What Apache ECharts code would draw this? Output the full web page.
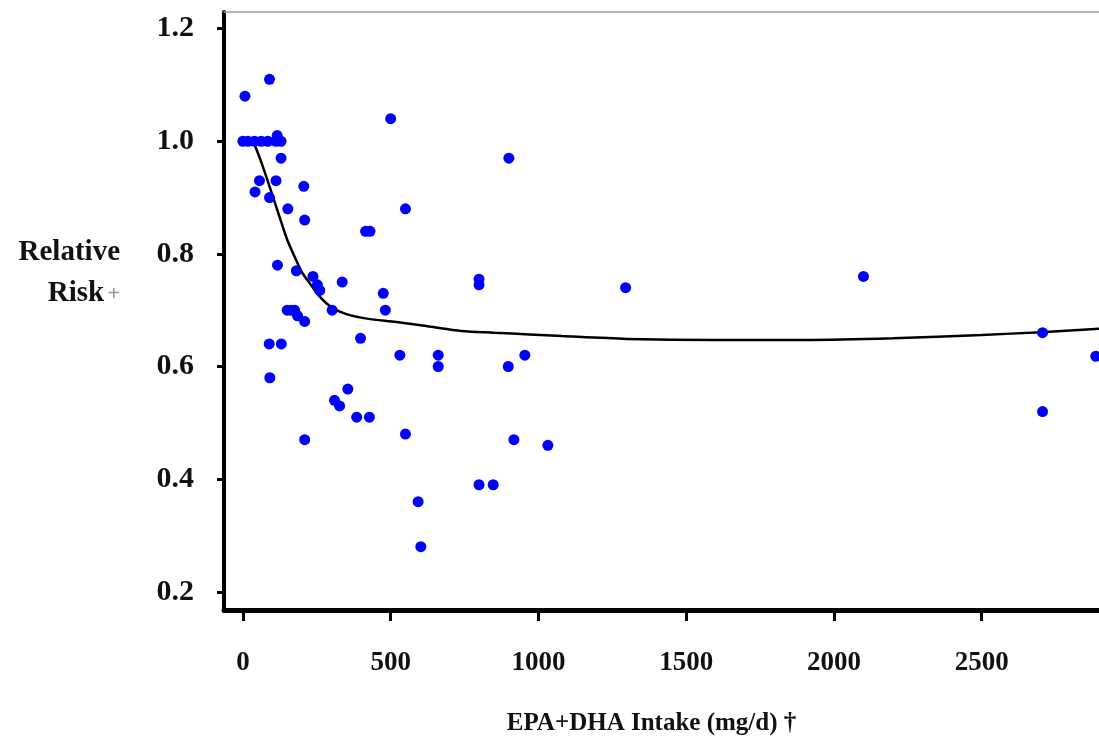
<!DOCTYPE html>
<html>
<head>
<meta charset="utf-8">
<script src="https://cdn.jsdelivr.net/npm/echarts@6/dist/echarts.min.js"></script>
<style>
html,body{margin:0;padding:0;background:#fff;}
#chart{width:1099px;height:745px;}
</style>
</head>
<body>
<div id="chart"></div>
<script>
// Study points: [EPA+DHA intake (mg/d), relative risk]
const studyPoints = [
  [0,1.0],[17,1.0],[39,1.0],[62,1.0],[84,1.0],[112,1.0],[129,1.0],[116,1.01],
  [7,1.08],[90,1.11],[500,1.04],[900,0.97],[129,0.97],
  [56,0.93],[112,0.93],[41,0.91],[90,0.90],[206,0.92],[152,0.88],[550,0.88],[209,0.86],
  [415,0.84],[430,0.84],
  [117,0.78],[181,0.77],[237,0.76],[252,0.745],[260,0.735],[336,0.75],[475,0.73],[482,0.70],[302,0.70],
  [150,0.70],[163,0.70],[175,0.70],[185,0.69],[209,0.68],[398,0.65],[89,0.64],[130,0.64],
  [531,0.62],[661,0.62],[661,0.60],[898,0.60],[954,0.62],
  [91,0.58],[355,0.56],[310,0.54],[327,0.53],[385,0.51],[428,0.51],[550,0.48],[209,0.47],
  [917,0.47],[1032,0.46],[799,0.39],[847,0.39],[593,0.36],[602,0.28],
  [799,0.755],[799,0.745],
  [1295,0.74],[2100,0.76],[2706,0.66],[2706,0.52],[2886,0.618]
];
// Fitted dose-response curve
const curvePoints = [
  [35,1.0],[60,0.966],[90,0.92],[120,0.872],[150,0.825],[175,0.795],[200,0.767],[230,0.745],
  [260,0.724],[300,0.705],[350,0.693],[420,0.685],[520,0.679],[630,0.671],[740,0.663],[850,0.660],
  [970,0.657],[1080,0.654],[1300,0.649],[1600,0.647],[1900,0.647],[2200,0.650],[2500,0.656],
  [2700,0.661],[2897,0.667]
];
const xTicks = [0,500,1000,1500,2000,2500];
const yTicks = [0.2,0.4,0.6,0.8,1.0,1.2];
const xTitle = 'EPA+DHA Intake (mg/d) †';
const yTitle1 = 'Relative';
const yTitle2 = 'Risk';
const yTitleMark = '+';

const FONT = '"Liberation Serif", "Times New Roman", serif';
const chart = echarts.init(document.getElementById('chart'));
chart.setOption({
  animation: false,
  backgroundColor: '#fff',
  grid: {left: 224, right: 0, top: 12, bottom: 135, containLabel: false, outerBoundsMode: 'none'},
  xAxis: [{
    type: 'value', min: -64, max: 2897, position: 'bottom',
    axisLine: {show: true, onZero: false, lineStyle: {color: '#000', width: 5}},
    axisTick: {show: true, customValues: xTicks, length: 11, lineStyle: {color: '#000', width: 3}},
    axisLabel: {customValues: xTicks, margin: 40, color: '#111', fontFamily: FONT, fontWeight: 'bold', fontSize: 27,
      formatter: v => String(v)},
    splitLine: {show: false},
    name: xTitle, nameLocation: 'middle', nameGap: 101,
    nameTextStyle: {color: '#111', fontFamily: FONT, fontWeight: 'bold', fontSize: 25, verticalAlign: 'top',
      padding: [0, 20, 0, 0]}
  }, {
    type: 'value', min: -64, max: 2897, position: 'top',
    axisLine: {show: true, onZero: false, lineStyle: {color: '#999', width: 1.5}},
    axisTick: {show: false}, axisLabel: {show: false}, splitLine: {show: false}
  }],
  yAxis: {
    type: 'value', min: 0.1676, max: 1.2295,
    axisLine: {show: true, onZero: false, lineStyle: {color: '#000', width: 4}},
    axisTick: {show: true, customValues: yTicks, length: 7, lineStyle: {color: '#000', width: 3}},
    axisLabel: {customValues: yTicks, margin: 30, color: '#111', fontFamily: FONT, fontWeight: 'bold', fontSize: 30,
      formatter: v => v.toFixed(1)},
    splitLine: {show: false}
  },
  graphic: [
    {type: 'text', x: 120, y: 253, style: {text: yTitle1, textAlign: 'right', textVerticalAlign: 'middle',
      fill: '#111', fontFamily: FONT, fontWeight: 'bold', fontSize: 29}},
    {type: 'text', x: 120, y: 294, style: {text: '{a|' + yTitle2 + '} {b|' + yTitleMark + '}', textAlign: 'right', textVerticalAlign: 'middle',
      rich: {a: {fill: '#111', fontFamily: FONT, fontWeight: 'bold', fontSize: 29},
             b: {fill: '#999', fontFamily: FONT, fontWeight: 'bold', fontSize: 22}}}}
  ],
  series: [{
    type: 'line', data: curvePoints, smooth: 0.3, showSymbol: false, z: 2,
    lineStyle: {color: '#000', width: 2.5}
  }, {
    type: 'scatter', data: studyPoints, symbol: 'circle', symbolSize: 11, z: 3,
    itemStyle: {color: '#0000FF', opacity: 1}
  }]
});
</script>
</body>
</html>
